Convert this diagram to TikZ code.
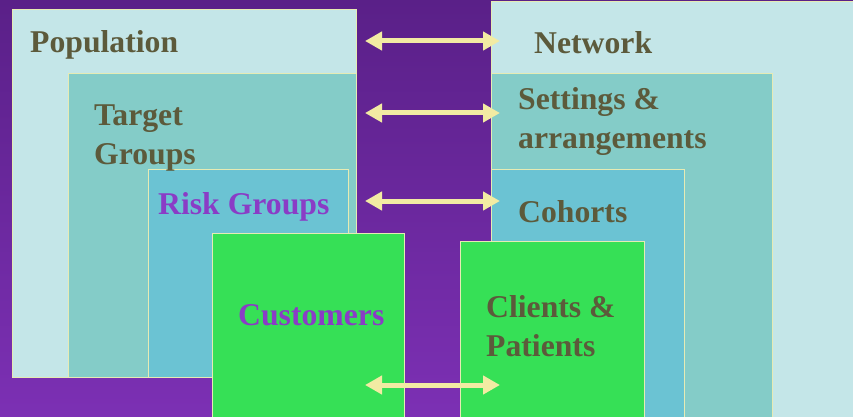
\documentclass[tikz,border=0pt]{standalone}
\usepackage{fontspec}
\setmainfont{Liberation Serif}
\usepackage{tikz}
\usetikzlibrary{arrows.meta,positioning}

\definecolor{bgtop}{HTML}{5A2088}
\definecolor{bgbottom}{HTML}{7C30B4}
\definecolor{outerfill}{HTML}{C4E6E8}
\definecolor{midfill}{HTML}{84CCC8}
\definecolor{innerfill}{HTML}{6BC3D3}
\definecolor{corefill}{HTML}{36E056}
\definecolor{edgeline}{HTML}{E6EBB4}
\definecolor{olivetext}{HTML}{5C5A3B}
\definecolor{purpletext}{HTML}{8A3CC6}
\definecolor{linkyellow}{HTML}{F2EBA3}

\begin{document}
\begin{tikzpicture}[x=1pt,y=-1pt,
	level/.style={draw=edgeline, line width=0.8pt, inner sep=0pt, anchor=north west},
	tag/.style={anchor=base west, inner sep=0pt, align=left, font=\fontsize{31.7}{39}\selectfont\bfseries, text=olivetext},
	link/.style={{Triangle[length=17pt,width=18pt]}-{Triangle[length=17pt,width=18pt]}, line width=5pt, draw=linkyellow}]
	\useasboundingbox (0,0) rectangle (853,417);
	\clip (0,0) rectangle (853,417);
	\shade[top color=bgtop, bottom color=bgbottom] (0,0) rectangle (853,417);

	% left side
	\node[level, fill=outerfill, minimum width=344pt, minimum height=368pt] 	(population) 	at (12,9) 	{};
	\node[level, fill=midfill, minimum width=288pt, minimum height=304pt] 	(target) 		at (68,73) 	{};
	\node[level, fill=innerfill, minimum width=200pt, minimum height=208pt] 	(risk) 			at (148,169) 	{};
	\node[level, fill=corefill, minimum width=192pt, minimum height=200pt] 	(customers) 	at (212,233) 	{};

	% right side
	\node[level, fill=outerfill, minimum width=380pt, minimum height=430pt] 	(network) 		at (491,1) 	{};
	\node[level, fill=midfill, minimum width=281pt, minimum height=360pt] 	(settings) 		at (491,73) 	{};
	\node[level, fill=innerfill, minimum width=193pt, minimum height=260pt] 	(cohorts) 		at (491,169) 	{};
	\node[level, fill=corefill, minimum width=184pt, minimum height=190pt] 	(clients) 		at (460,241) 	{};

	% labels (two-line labels sit on their last line)
	\node[tag] 						(population_t) 	at (30,53) 		{Population};
	\node[tag] 						(target_t) 		at (94,164) 	{Target\\Groups};
	\node[tag, text=purpletext] 	(risk_t) 		at (158,214) 	{Risk Groups};
	\node[tag, text=purpletext] 	(customers_t) 	at (238,325) 	{Customers};
	\node[tag] 						(network_t) 	at (534,54) 	{Network};
	\node[tag] 						(settings_t) 	at (518,148) 	{Settings \&\\arrangements};
	\node[tag] 						(cohorts_t) 	at (518,222) 	{Cohorts};
	\node[tag] 						(clients_t) 	at (486,356) 	{Clients \&\\Patients};

	% arrow ends
	\coordinate (l_1) at (365,41);		\coordinate (r_1) at (500,41);
	\coordinate (l_2) at (365,113);	\coordinate (r_2) at (500,113);
	\coordinate (l_3) at (365,201);	\coordinate (r_3) at (500,201);
	\coordinate (l_4) at (365,385);	\coordinate (r_4) at (500,385);

	\draw[link] (l_1) -- (r_1);
	\draw[link] (l_2) -- (r_2);
	\draw[link] (l_3) -- (r_3);
	\draw[link] (l_4) -- (r_4);
\end{tikzpicture}
\end{document}
